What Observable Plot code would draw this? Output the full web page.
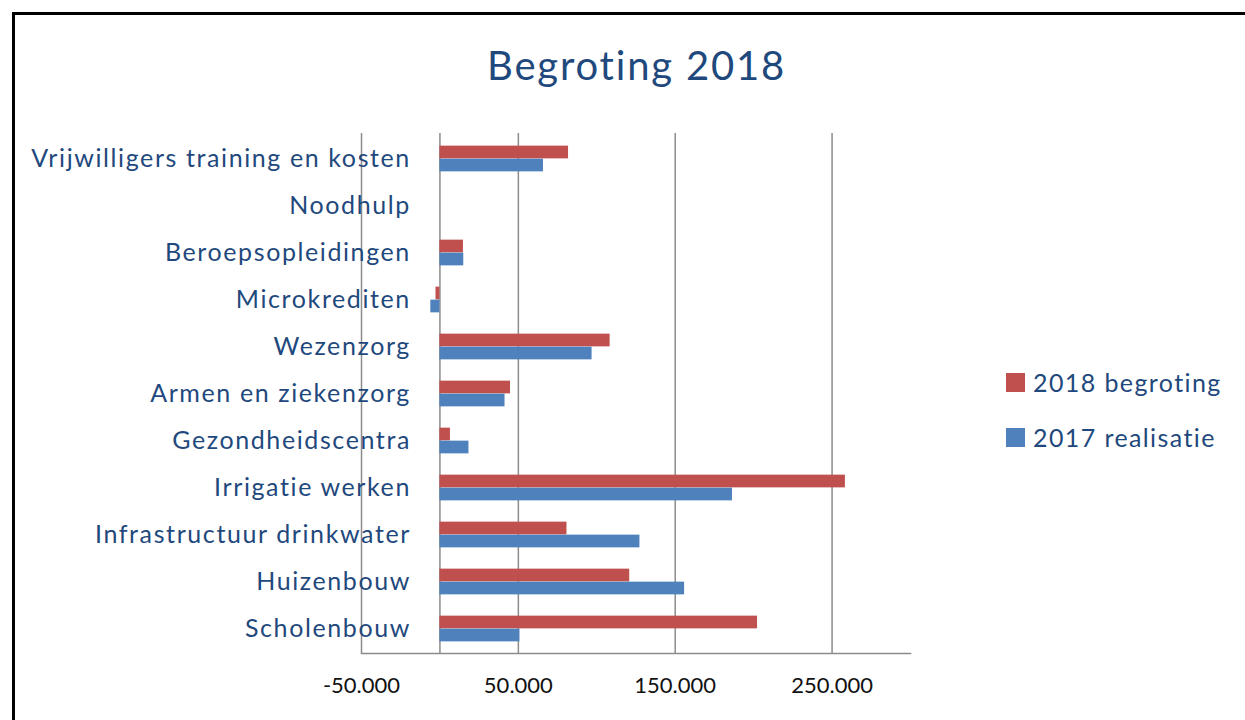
<!DOCTYPE html>
<html>
<head>
<meta charset="utf-8">
<script src="https://cdn.jsdelivr.net/npm/d3@7"></script>
<script src="https://cdn.jsdelivr.net/npm/@observablehq/plot@0.6"></script>
<style>
  body { margin: 0; background: #fff; }
  #wrap { position: relative; width: 1245px; height: 720px; overflow: hidden; background: #fff; font-family: Lato, "Open Sans", sans-serif; }
  #frame { position: absolute; left: 12px; top: 12px; width: 1400px; height: 900px; border: 3px solid #000; box-sizing: border-box; }
  #title { position: absolute; left: 14px; top: 0; width: 1245px; height: 120px; line-height: 130px; text-align: center; font-size: 40px; letter-spacing: 1.8px; color: #1F497D; }
  #chart { position: absolute; left: 0; top: 120px; }
  #legend { position: absolute; left: 1006px; top: 368px; font-size: 25px; letter-spacing: 1.4px; color: #1F497D; }
  .item { display: flex; align-items: center; height: 28px; margin-bottom: 27px; }
  .sw { width: 19px; height: 19px; margin-right: 8px; }
</style>
</head>
<body>
<div id="wrap">
  <div id="frame"></div>
  <div id="title">Begroting 2018</div>
  <div id="chart"></div>
  <div id="legend"></div>
</div>
<script>
const categories = ["Vrijwilligers training en kosten", "Noodhulp", "Beroepsopleidingen", "Microkrediten", "Wezenzorg", "Armen en ziekenzorg", "Gezondheidscentra", "Irrigatie werken", "Infrastructuur drinkwater", "Huizenbouw", "Scholenbouw"];
const begroting2018 = [82000, 0, 15000, -2500, 108500, 45000, 6700, 258500, 81000, 121000, 202500];
const realisatie2017 = [66000, 0, 15200, -5800, 97000, 41500, 18500, 186500, 127500, 156000, 51000];
const seriesNames = ["2018 begroting", "2017 realisatie"];
const seriesColors = ["#C0504D", "#4F81BD"];
const xTicks = [-50000, 50000, 150000, 250000];
const xDomain = [-50000, 300000];

const rows2018 = categories.map((c, i) => ({category: c, value: begroting2018[i]}));
const rows2017 = categories.map((c, i) => ({category: c, value: realisatie2017[i]}));

const nl = d3.formatLocale({decimal: ",", thousands: ".", grouping: [3], currency: ["€", ""], minus: "-"});
const fmt = nl.format(",");

const H = 600, mTop = 13, mBottom = 67;
const step = (H - mTop - mBottom) / categories.length;
const barH = 13;
const pad = (step - 2 * barH) / 2;
const font = "Lato, 'Open Sans', sans-serif";
const grid = "#8c8c8c";

const chart = Plot.plot({
  width: 1245,
  height: H,
  marginLeft: 361,
  marginRight: 335,
  marginTop: mTop,
  marginBottom: mBottom,
  style: {fontFamily: font, background: "transparent"},
  x: {domain: xDomain, label: null},
  y: {domain: categories, padding: 0, axis: null, label: null},
  marks: [
    Plot.ruleX(xTicks, {stroke: grid, strokeWidth: 1.5}),
    Plot.ruleX([0], {stroke: grid, strokeWidth: 1.5}),
    Plot.frame({anchor: "bottom", stroke: grid, strokeWidth: 1.5}),
    Plot.barX(rows2018, {x: "value", y: "category", fill: seriesColors[0], insetTop: pad, insetBottom: pad + barH}),
    Plot.barX(rows2017, {x: "value", y: "category", fill: seriesColors[1], insetTop: pad + barH, insetBottom: pad}),
    Plot.text(categories, {x: 0, y: d => d, text: d => d, textAnchor: "end", dx: -29, fontSize: 25, fill: "#1F497D", style: "letter-spacing:1.6px"}),
    Plot.axisX(xTicks, {tickSize: 0, tickPadding: 24, tickFormat: fmt, fontSize: 22, fill: "#111", label: null})
  ]
});
chart.querySelectorAll("text").forEach(t => {
  if (categories.includes(t.textContent)) t.style.letterSpacing = "1.6px";
});
document.getElementById("chart").appendChild(chart);

const legend = document.getElementById("legend");
seriesNames.forEach((s, i) => {
  const item = document.createElement("div");
  item.className = "item";
  const sw = document.createElement("div");
  sw.className = "sw";
  sw.style.background = seriesColors[i];
  const t = document.createElement("span");
  t.textContent = s;
  item.appendChild(sw);
  item.appendChild(t);
  legend.appendChild(item);
});
</script>
</body>
</html>
